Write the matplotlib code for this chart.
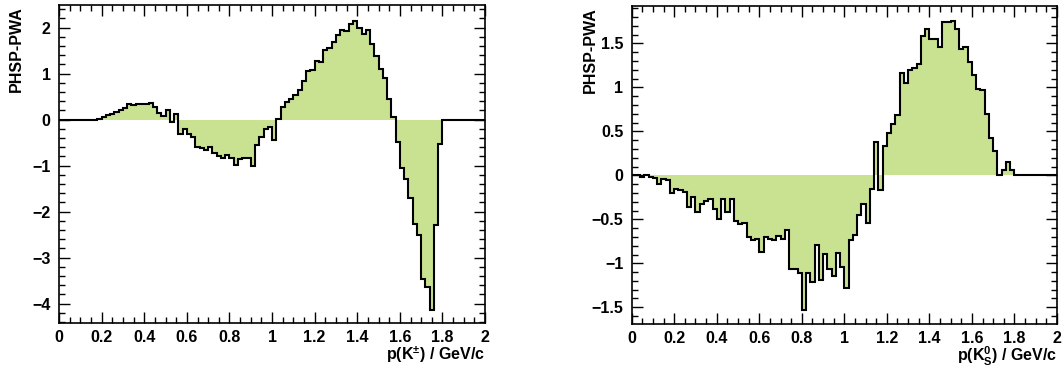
import matplotlib.pyplot as plt
import numpy as np
from matplotlib.ticker import MultipleLocator

plt.rcParams['font.family'] = ['Liberation Sans', 'DejaVu Sans']
plt.rcParams['font.weight'] = 'bold'
plt.rcParams['mathtext.fontset'] = 'custom'
plt.rcParams['mathtext.rm'] = 'Liberation Sans:bold'
plt.rcParams['mathtext.it'] = 'Liberation Sans:bold'
plt.rcParams['mathtext.bf'] = 'Liberation Sans:bold'
plt.rcParams['mathtext.sf'] = 'Liberation Sans:bold'

# momentum binning: 100 bins from 0 to 2 GeV/c
bin_edges = np.linspace(0.0, 2.0, 101)

# PHSP-PWA difference, charged kaon momentum
diff_kpm = [
    0.0, 0.0, 0.0, 0.0, 0.0, -0.005, -0.01, -0.01, -0.005, 0.02,
    0.05, 0.09, 0.12, 0.17, 0.20, 0.25, 0.34, 0.32, 0.33, 0.33,
    0.33, 0.36, 0.27, 0.15, 0.08, 0.20, -0.05, 0.11, -0.31, -0.21,
    -0.31, -0.37, -0.59, -0.62, -0.66, -0.59, -0.73, -0.80, -0.84, -0.77,
    -0.84, -0.99, -0.86, -0.84, -0.84, -1.02, -0.55, -0.37, -0.21, -0.17,
    -0.44, 0.02, 0.28, 0.38, 0.45, 0.54, 0.64, 0.83, 1.06, 1.08,
    1.28, 1.26, 1.51, 1.55, 1.68, 1.83, 1.95, 1.93, 2.07, 2.15,
    1.99, 1.86, 1.95, 1.64, 1.38, 1.10, 0.91, 0.45, 0.05, -0.48,
    -1.06, -1.29, -1.71, -2.28, -2.52, -3.46, -3.63, -4.14, -2.29, -0.53,
    0.0, 0.0, 0.0, 0.0, 0.0, 0.0, 0.0, 0.0, 0.0, 0.0,
]

# PHSP-PWA difference, neutral kaon momentum
diff_ks = [
    0.0, 0.0, -0.02, 0.01, -0.02, -0.03, -0.10, -0.04, -0.05, -0.20,
    -0.15, -0.17, -0.19, -0.36, -0.25, -0.42, -0.32, -0.29, -0.27, -0.38,
    -0.50, -0.27, -0.42, -0.27, -0.52, -0.55, -0.54, -0.70, -0.73, -0.72,
    -0.87, -0.70, -0.72, -0.74, -0.69, -0.72, -0.62, -1.07, -1.06, -1.11,
    -1.53, -1.11, -1.21, -0.79, -1.19, -0.89, -1.06, -1.14, -0.88, -1.04,
    -1.28, -0.73, -0.68, -0.45, -0.33, -0.54, -0.15, 0.38, -0.17, 0.33,
    0.48, 0.58, 0.69, 1.16, 1.05, 1.20, 1.22, 1.27, 1.58, 1.66,
    1.55, 1.55, 1.46, 1.74, 1.74, 1.76, 1.67, 1.44, 1.46, 1.29,
    1.14, 0.98, 0.97, 0.70, 0.43, 0.28, 0.01, 0.06, 0.155, 0.06,
    0.0, 0.0, 0.0, 0.0, 0.0, 0.0, 0.0, 0.0, 0.0, 0.0,
]

fill_color = '#c9e291'
label_size = 11.5


def draw_panel(ax, values, xlabel, ylim, ymajor, yminor, ylab_x):
    ax.stairs(values, bin_edges, baseline=0, fill=True, color=fill_color, lw=0)
    ax.stairs(values, bin_edges, baseline=None, color='black', lw=1.5)

    ax.set_xlim(0, 2)
    ax.set_ylim(*ylim)
    ax.xaxis.set_major_locator(MultipleLocator(0.2))
    ax.xaxis.set_minor_locator(MultipleLocator(0.05))
    ax.yaxis.set_major_locator(MultipleLocator(ymajor))
    ax.yaxis.set_minor_locator(MultipleLocator(yminor))
    ax.xaxis.set_major_formatter(lambda v, p: f'{v:g}')
    ax.yaxis.set_major_formatter(lambda v, p: f'{v:g}'.replace('-', '\u2212'))

    ax.tick_params(which='both', direction='in', top=True, right=True,
                   labelsize=label_size, width=1.0)
    ax.tick_params(which='major', length=8)
    ax.tick_params(which='minor', length=4)
    ax.tick_params(axis='x', pad=5)
    ax.tick_params(axis='y', pad=6)
    for s in ax.spines.values():
        s.set_linewidth(1.2)

    ax.set_xlabel(xlabel, fontsize=label_size, fontweight='bold', loc='right')
    ax.xaxis.set_label_coords(1.0, -0.066)
    ax.set_ylabel('PHSP-PWA', fontsize=label_size, fontweight='bold', loc='top')
    ax.yaxis.set_label_coords(ylab_x, 0.995)


fig = plt.figure(figsize=(10.64, 3.69), dpi=100)
ax1 = fig.add_axes([0.0555, 0.1238, 0.4004, 0.8626])
ax2 = fig.add_axes([0.5937, 0.1220, 0.3997, 0.8626])

draw_panel(ax1, diff_kpm, r'p(K$^{\pm}$) / GeV/c', (-4.43, 2.49), 1, 0.2, -0.082)
draw_panel(ax2, diff_ks, r'p(K$_{S}^{0}$) / GeV/c', (-1.69, 1.93), 0.5, 0.1, -0.079)

fig.savefig('out.png', dpi=100)
